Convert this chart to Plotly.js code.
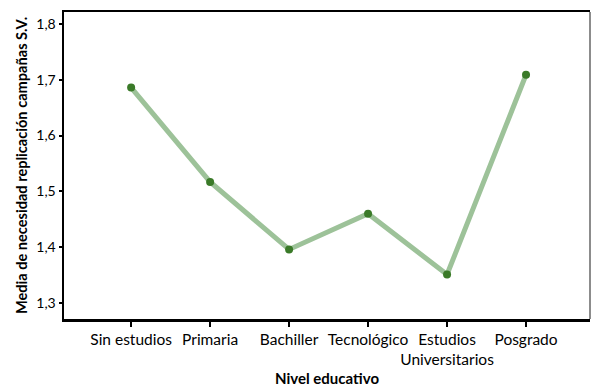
<!DOCTYPE html>
<html><head><meta charset="utf-8">
<script src="https://cdn.plot.ly/plotly-3.0.1.min.js"></script>
<style>html,body{margin:0;padding:0;background:#fff}#chart{width:592px;height:387px}</style>
</head><body><div id="chart"></div>
<script>
const categories = ["Sin estudios", "Primaria", "Bachiller", "Tecnológico", "Estudios<br>Universitarios", "Posgrado"];
const means = [1.686, 1.517, 1.396, 1.460, 1.351, 1.709];
const yTicks = [1.3, 1.4, 1.5, 1.6, 1.7, 1.8];

const font = "Lato, 'Open Sans', sans-serif";
Plotly.newPlot('chart', [
  {x: categories, y: means, type: 'scatter', mode: 'lines', line: {color: '#9dc299', width: 5}, hoverinfo: 'skip'},
  {x: categories, y: means, type: 'scatter', mode: 'markers', marker: {color: '#3a7a28', size: 8}}
], {
  width: 592, height: 387,
  margin: {l: 64, r: 2, t: 12, b: 68},
  showlegend: false,
  separators: ',.',
  paper_bgcolor: '#fff', plot_bgcolor: '#fff',
  font: {family: font, color: '#000', size: 13},
  xaxis: {
    type: 'category', range: [-0.85, 5.81],
    showline: true, linecolor: '#000', linewidth: 2.5, mirror: true,
    ticks: 'outside', ticklen: 5, tickwidth: 2, tickcolor: '#000',
    tickangle: 0,
    showgrid: false, zeroline: false,
    tickfont: {family: font, size: 15.5, color: '#000'},
    title: {text: '<b>Nivel educativo</b>', font: {family: font, size: 15, color: '#000'}, standoff: 11}
  },
  yaxis: {
    range: [1.2713, 1.8215],
    tickvals: yTicks, tickformat: '.1f',
    showline: true, linecolor: '#000', linewidth: 2.5,
    ticks: 'outside', ticklen: 3, tickwidth: 2, tickcolor: '#000',
    showgrid: false, zeroline: false,
    tickfont: {family: font, size: 14, color: '#000'},
    title: {text: '<b>Media de necesidad replicación campañas S.V.</b>', font: {family: font, size: 14.6, color: '#000'}, standoff: 5}
  },
  shapes: [
    {type: 'line', xref: 'paper', yref: 'paper', x0: 1, x1: 1, y0: 0, y1: 1, line: {color: '#666', width: 1.5}}
  ]
}, {displayModeBar: false, staticPlot: true});
</script></body></html>
